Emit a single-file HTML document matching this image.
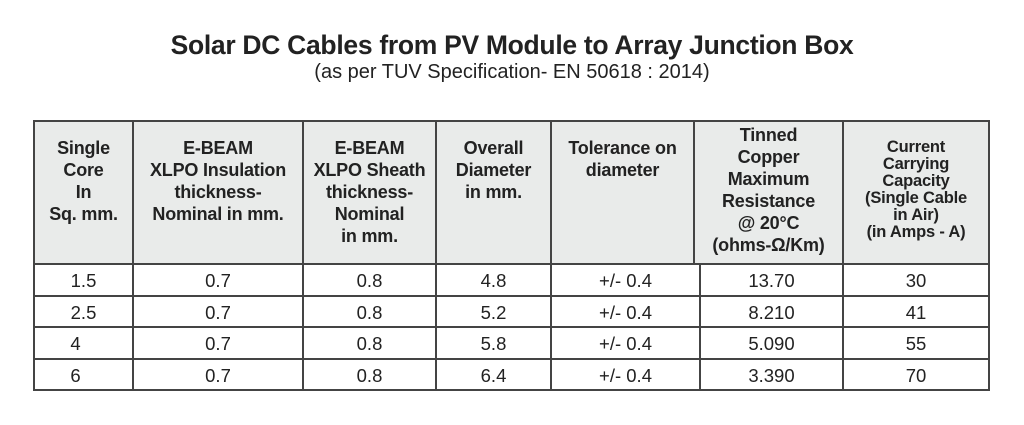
<!DOCTYPE html>
<html><head><meta charset="utf-8"><style>
body{margin:0;width:1024px;height:425px;background:#fff;position:relative;font-family:"Liberation Sans",Arial,sans-serif;color:#222;overflow:hidden}
.t{position:absolute;left:0;width:1024px;text-align:center}
.c{position:absolute;box-sizing:border-box;text-align:center;white-space:nowrap}
.h{background:#e9ebea}
.b{font-size:18.5px;line-height:31px}
.ln{position:absolute;background:#444}
</style></head><body>
<div class="t" style="top:30px;font-size:26.5px;font-weight:bold;letter-spacing:-0.3px">Solar DC Cables from PV Module to Array Junction Box</div>
<div class="t" style="top:61px;font-size:20px">(as per TUV Specification- EN 50618 : 2014)</div>
<div id="tbl"></div>
<script>
const cols=[34,133,303,436,551,694,843,989];
const bodyCols=[34,133,303,436,551,700,843,989];
const rowsY=[264,295.5,327,358.5,390];
const headers=[
 ["Single<br>Core<br>In<br>Sq. mm.",137,22,18],
 ["E-BEAM<br>XLPO Insulation<br>thickness-<br>Nominal in mm.",137,22,18],
 ["E-BEAM<br>XLPO Sheath<br>thickness-<br>Nominal<br>in mm.",137,22,18],
 ["Overall<br>Diameter<br>in mm.",137,22,18],
 ["Tolerance on<br>diameter",137,22,18],
 ["Tinned<br>Copper<br>Maximum<br>Resistance<br>@ 20°C<br>(ohms-Ω/Km)",124,22,18],
 ["Current<br>Carrying<br>Capacity<br>(Single Cable<br>in Air)<br>(in Amps - A)",139,17,16.5]
];
const sizes=["1.5","2.5","4","6"];
const insulation=["0.7","0.7","0.7","0.7"];
const sheath=["0.8","0.8","0.8","0.8"];
const diameter=["4.8","5.2","5.8","6.4"];
const tolerance=["+/- 0.4","+/- 0.4","+/- 0.4","+/- 0.4"];
const resistance=["13.70","8.210","5.090","3.390"];
const current=["30","41","55","70"];
const body=document.body;
const hb=document.createElement('div');


hb.className='c h';hb.style.cssText=`left:${cols[0]}px;top:120px;width:${cols[7]-cols[0]}px;height:${264-120}px`;
body.appendChild(hb);
headers.forEach((h,i)=>{
 const d=document.createElement('div');
 
 
 d.className='c';
 d.style.cssText=`left:${cols[i]}px;top:${h[1]}px;width:${cols[i+1]-cols[i]}px;font-weight:bold;font-size:${h[3]}px;line-height:${h[2]}px;letter-spacing:-0.2px`;
 d.innerHTML=h[0];body.appendChild(d);
});
const data=[sizes,insulation,sheath,diameter,tolerance,resistance,current];
for(let r=0;r<sizes.length;r++){
 for(let c=0;c<data.length;c++){
  const d=document.createElement('div');
  
  
  d.className='c b';
  let dx=0;
  if(c===0&&r>=2)dx=-8;
  d.style.cssText=`left:${bodyCols[c]+dx}px;top:${rowsY[r]+1}px;width:${bodyCols[c+1]-bodyCols[c]}px;height:${rowsY[r+1]-rowsY[r]}px`;
  d.textContent=data[c][r];body.appendChild(d);
 }
}
function line(x,y,w,h){const l=document.createElement('div');
 
 
 l.className='ln';l.style.cssText=`left:${x}px;top:${y}px;width:${w}px;height:${h}px`;body.appendChild(l);}
line(34,120,956,2);line(34,263,956,2);
rowsY.slice(1).forEach(y=>line(34,y-1,956,2));
cols.forEach(x=>line(x-1,120,2,144));
bodyCols.forEach(x=>line(x-1,264,2,127));
</script>
</body></html>
